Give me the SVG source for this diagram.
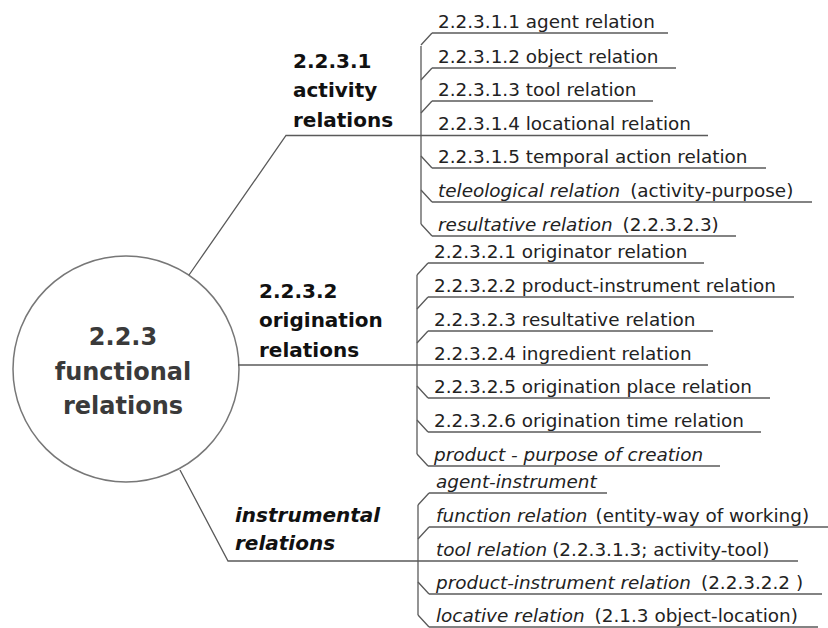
<svg xmlns="http://www.w3.org/2000/svg" width="828" height="628" viewBox="0 0 828 628">
  <style>
    .ln { fill: none; stroke: #5a5a5a; stroke-width: 1.3; }
    .ul { fill: none; stroke: #5a5a5a; stroke-width: 1.3; }
    .item { font-family: "DejaVu Sans", sans-serif; font-size: 18.4px; fill: #222; }
    .it { font-style: italic; }
    .head { font-family: "DejaVu Sans", sans-serif; font-size: 20px; font-weight: bold; fill: #111; }
    .core { font-family: "DejaVu Sans", sans-serif; font-size: 24px; font-weight: bold; fill: #3a3a3a; text-anchor: middle; }
  </style>
  <rect width="828" height="628" fill="#fff"/>

  <!-- central concept -->
  <g id="root">
    <circle cx="126" cy="369" r="113" fill="#fff" stroke="#777" stroke-width="1.5"/>
    <text class="core" x="123" y="345">2.2.3</text>
    <text class="core" x="123" y="380">functional</text>
    <text class="core" x="123" y="414">relations</text>
  </g>

  <!-- connectors: branch lines and brackets -->
  <g id="connectors" class="ln">
    <!-- activity relations -->
    <path d="M189,275 L286,135.5 L432,135.5"/>
    <path d="M421,46 L421,224"/>
    <path d="M432,33 L421,45 M432,68 L421,80 M432,101 L421,113 M421,156 L432,168 M421,190 L432,202 M421,224 L432,236"/>
    <!-- origination relations -->
    <path d="M238,365 L428,365"/>
    <path d="M417,275 L417,454"/>
    <path d="M428,263 L417,275 M428,297 L417,309 M428,331 L417,343 M417,386 L428,398 M417,420 L428,432 M417,454 L428,466"/>
    <!-- instrumental relations -->
    <path d="M180,470 L228,561 L429,561"/>
    <path d="M418,505 L418,615"/>
    <path d="M429,493 L418,505 M429,527 L418,539 M418,582 L429,594 M418,615 L429,627"/>
  </g>

  <!-- branch labels -->
  <g id="activity">
    <text class="head" x="293" y="68">2.2.3.1</text>
    <text class="head" x="293" y="97">activity</text>
    <text class="head" x="293" y="127">relations</text>
  </g>
  <g id="origination">
    <text class="head" x="259" y="298">2.2.3.2</text>
    <text class="head" x="259" y="327">origination</text>
    <text class="head" x="259" y="357">relations</text>
  </g>
  <g id="instrumental">
    <text class="head" x="235" y="522" font-style="italic">instrumental</text>
    <text class="head" x="235" y="550" font-style="italic">relations</text>
  </g>

  <!-- activity relation leaves -->
  <g id="a1"><text class="item" x="438" y="28">2.2.3.1.1 agent relation</text><path class="ul" d="M432,33 H668"/></g>
  <g id="a2"><text class="item" x="438" y="63">2.2.3.1.2 object relation</text><path class="ul" d="M432,68 H676"/></g>
  <g id="a3"><text class="item" x="438" y="96">2.2.3.1.3 tool relation</text><path class="ul" d="M432,101 H653"/></g>
  <g id="a4"><text class="item" x="438" y="130">2.2.3.1.4 locational relation</text><path class="ul" d="M432,135.5 H708"/></g>
  <g id="a5"><text class="item" x="438" y="163">2.2.3.1.5 temporal action relation</text><path class="ul" d="M432,168 H766"/></g>
  <g id="a6"><text class="item" x="438" y="197"><tspan class="it">teleological relation</tspan><tspan dx="10">(activity-purpose)</tspan></text><path class="ul" d="M432,202 H812"/></g>
  <g id="a7"><text class="item" x="438" y="231"><tspan class="it">resultative relation</tspan><tspan dx="10">(2.2.3.2.3)</tspan></text><path class="ul" d="M432,236 H736"/></g>

  <!-- origination relation leaves -->
  <g id="o1"><text class="item" x="434" y="258">2.2.3.2.1 originator relation</text><path class="ul" d="M428,263 H704"/></g>
  <g id="o2"><text class="item" x="434" y="292">2.2.3.2.2 product-instrument relation</text><path class="ul" d="M428,297 H794"/></g>
  <g id="o3"><text class="item" x="434" y="326">2.2.3.2.3 resultative relation</text><path class="ul" d="M428,331 H713"/></g>
  <g id="o4"><text class="item" x="434" y="360">2.2.3.2.4 ingredient relation</text><path class="ul" d="M428,365 H708"/></g>
  <g id="o5"><text class="item" x="434" y="393">2.2.3.2.5 origination place relation</text><path class="ul" d="M428,398 H770"/></g>
  <g id="o6"><text class="item" x="434" y="427">2.2.3.2.6 origination time relation</text><path class="ul" d="M428,432 H761"/></g>
  <g id="o7"><text class="item it" x="434" y="461">product - purpose of creation</text><path class="ul" d="M428,466 H720"/></g>

  <!-- instrumental relation leaves -->
  <g id="i1"><text class="item it" x="436" y="488">agent-instrument</text><path class="ul" d="M429,493 H607"/></g>
  <g id="i2"><text class="item" x="436" y="522"><tspan class="it">function relation</tspan><tspan dx="8">(entity-way of working)</tspan></text><path class="ul" d="M429,527 H828"/></g>
  <g id="i3"><text class="item" x="436" y="556"><tspan class="it">tool relation</tspan><tspan dx="5">(2.2.3.1.3; activity-tool)</tspan></text><path class="ul" d="M429,561 H798"/></g>
  <g id="i4"><text class="item" x="436" y="589"><tspan class="it">product-instrument relation</tspan><tspan dx="10">(2.2.3.2.2 )</tspan></text><path class="ul" d="M429,594 H822"/></g>
  <g id="i5"><text class="item" x="436" y="622"><tspan class="it">locative relation</tspan><tspan dx="10">(2.1.3 object-location)</tspan></text><path class="ul" d="M429,627 H818"/></g>
</svg>
